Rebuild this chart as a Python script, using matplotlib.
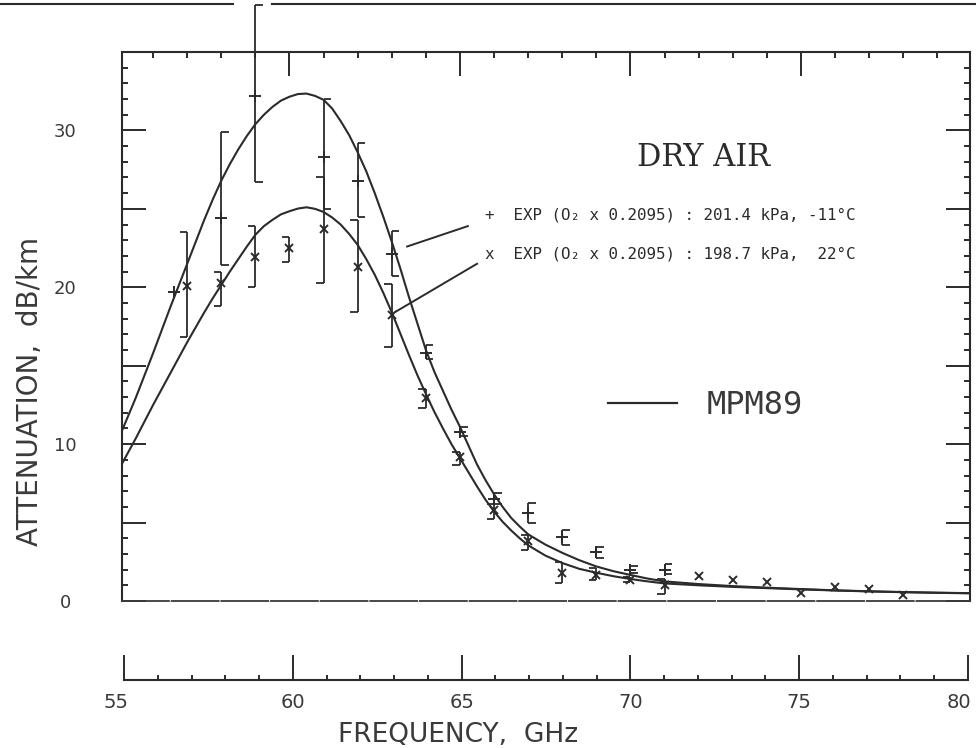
import matplotlib.pyplot as plt
from matplotlib.ticker import MultipleLocator, FuncFormatter
from matplotlib.transforms import ScaledTranslation

# MPM89 model curves
freq_model = [55, 55.5, 56, 56.5,
              57, 57.25, 57.5, 57.75, 58, 58.25, 58.5, 58.75, 59, 59.25, 59.5, 59.75,
              60, 60.25, 60.5, 60.75, 61, 61.25, 61.5, 61.75, 62, 62.25, 62.5, 62.75,
              63, 63.25, 63.5, 63.75, 64, 64.25, 64.5, 64.75, 65, 65.25, 65.5, 65.75,
              66, 66.25, 66.5, 66.75, 67,
              67.5, 68, 68.5, 69, 69.5, 70, 70.5, 71, 72, 73, 74, 75, 76, 77, 78, 79, 80]
mpm_cold = [10.4, 13.0, 15.8, 18.7,
            21.5, 22.9, 24.3, 25.6, 26.8, 27.85, 28.8, 29.65, 30.4, 31.0, 31.5, 31.9,
            32.15, 32.32, 32.35, 32.2, 31.95, 31.4, 30.6, 29.7, 28.6, 27.4, 26.0, 24.5,
            22.9, 21.2, 19.4, 17.7, 16.0, 14.6, 13.4, 12.2, 11.1, 9.9, 8.7, 7.7,
            6.8, 6.0, 5.3, 4.75, 4.25,
            3.6, 3.07, 2.6, 2.2, 1.9, 1.66, 1.43, 1.25, 1.08, 0.95, 0.85, 0.76, 0.68, 0.62, 0.57, 0.53, 0.5]
mpm_warm = [8.4, 10.4, 12.5, 14.5,
            16.5, 17.45, 18.4, 19.3, 20.15, 21.0, 21.8, 22.6, 23.35, 23.9, 24.3, 24.65,
            24.85, 25.02, 25.1, 25.0, 24.8, 24.45, 24.0, 23.4, 22.7, 21.8, 20.8, 19.65,
            18.4, 17.05, 15.7, 14.4, 13.2, 12.05, 11.0, 10.0, 9.1, 8.2, 7.3, 6.45,
            5.7, 5.05, 4.5, 4.0, 3.55,
            2.9, 2.42, 2.05, 1.8, 1.58, 1.4, 1.25, 1.12, 1.0, 0.9, 0.82, 0.74, 0.67, 0.61, 0.56, 0.52, 0.49]

# "+" experiment: 201.4 kPa, -11 C
plus_f = [56.6, 58, 59, 61, 62, 63, 64, 65, 66, 67, 68, 69, 70, 71]
plus_v = [19.7, 24.4, 32.2, 28.3, 26.8, 22.1, 15.8, 10.8, 6.5, 5.6, 4.1, 3.1, 2.0, 2.0]
plus_lo = [19.7, 21.4, 26.7, 25.0, 24.5, 20.7, 15.4, 10.5, 6.2, 5.0, 3.6, 2.75, 1.8, 1.7]
plus_hi = [19.7, 29.9, 38.0, 32.0, 29.2, 23.6, 16.3, 11.1, 6.9, 6.25, 4.5, 3.45, 2.2, 2.35]

# "x" experiment: 198.7 kPa, 22 C
x_f = [57, 58, 59, 60, 61, 62, 63, 64, 65, 66, 67, 68, 69, 70, 71, 72, 73, 74, 75, 76, 77, 78]
x_v = [20.1, 20.3, 21.95, 22.5, 23.7, 21.3, 18.25, 12.95, 9.2, 5.8, 3.8, 1.8, 1.65, 1.35, 1.0,
       1.6, 1.35, 1.2, 0.5, 0.9, 0.75, 0.4]
x_lo = [16.8, 18.8, 20.0, 21.6, 20.3, 18.4, 16.2, 12.3, 8.7, 5.2, 3.25, 1.15, 1.35, 1.2, 0.45,
        1.6, 1.35, 1.2, 0.5, 0.9, 0.75, 0.4]
x_hi = [23.5, 21.0, 23.9, 23.2, 27.0, 24.3, 20.2, 13.5, 9.5, 6.2, 4.2, 2.5, 2.1, 1.5, 1.4,
        1.6, 1.35, 1.2, 0.5, 0.9, 0.75, 0.4]

freq_ticks = [55, 60, 65, 70, 75, 80]

ink = '#2b2b2b'
grey = '#3a3a3a'

fig = plt.figure(figsize=(9.76, 7.48), dpi=100)
ax = fig.add_axes([122 / 976, 147 / 748, 848 / 976, 549 / 748])
ax.set_xlim(55.088, 79.956)
ax.set_ylim(0, 35)

ax.plot(freq_model, mpm_cold, color=ink, lw=1.5)
ax.plot(freq_model, mpm_warm, color=ink, lw=1.5)


def bracket(f, lo, hi, side):
    if hi - lo < 0.05:
        return
    w = 0.22 * side
    ax.vlines(f, lo, hi, color=ink, lw=1.3, clip_on=False)
    ax.hlines([lo, hi], f, f + w, color=ink, lw=1.3, clip_on=False)


for f, lo, hi in zip(plus_f, plus_lo, plus_hi):
    bracket(f, lo, hi, 1)
for f, lo, hi in zip(x_f, x_lo, x_hi):
    bracket(f, lo, hi, -1)

ax.plot(plus_f, plus_v, ls='none', marker='+', ms=8, mew=1.4, color=ink)
ax.plot(x_f, x_v, ls='none', marker='x', ms=6, mew=1.4, color=ink)

# frame
for s in ['left', 'top', 'right']:
    ax.spines[s].set_linewidth(1.5)
    ax.spines[s].set_color(ink)
ax.spines['bottom'].set_linewidth(1.3)
ax.spines['bottom'].set_color(grey)
ax.spines['bottom'].set_linestyle((0, (26, 1.5)))

ax.xaxis.set_major_locator(MultipleLocator(5))
ax.xaxis.set_minor_locator(MultipleLocator(1))
ax.yaxis.set_major_locator(MultipleLocator(5))
ax.yaxis.set_minor_locator(MultipleLocator(1))
ax.yaxis.set_major_formatter(FuncFormatter(lambda v, p: '%d' % v if v % 10 == 0 and v < 35 else ''))
ax.tick_params(which='both', direction='in', top=True, bottom=False, left=True, right=True,
               labelbottom=False, labeltop=False, color=ink, width=1.4)
ax.tick_params(which='major', length=17)
ax.tick_params(which='minor', length=4.5)
ax.tick_params(axis='y', which='major', labelsize=13, pad=41, labelcolor=grey)
for lab in ax.get_yticklabels():
    lab.set_horizontalalignment('center')

# separate frequency scale underneath
axf = fig.add_axes([124 / 976, 68 / 748, 844 / 976, 0.001])
axf.set_xlim(55, 80)
axf.set_yticks([])
for s in ['left', 'top', 'right']:
    axf.spines[s].set_visible(False)
axf.spines['bottom'].set_linewidth(1.5)
axf.spines['bottom'].set_color(ink)
axf.set_xticks(freq_ticks)
axf.xaxis.set_minor_locator(MultipleLocator(1))
axf.tick_params(which='both', direction='in', color=ink, width=1.4)
axf.tick_params(which='major', length=18, labelsize=14, pad=9, labelcolor=grey)
axf.tick_params(which='minor', length=3.5)
labs = axf.get_xticklabels()
labs[0].set_transform(labs[0].get_transform() + ScaledTranslation(-0.08, 0, fig.dpi_scale_trans))
labs[-1].set_horizontalalignment('right')
labs[-1].set_transform(labs[-1].get_transform() + ScaledTranslation(0.03, 0, fig.dpi_scale_trans))

fig.text(458 / 976, 1 - 735 / 748, 'FREQUENCY,  GHz', ha='center', va='center',
         fontsize=19, color=grey)
fig.text(30 / 976, 1 - 391 / 748, 'ATTENUATION,  dB/km', ha='center', va='center',
         rotation=90, fontsize=20, color=grey)

# annotations
ax.text(0.6863, 0.8087, 'DRY AIR', transform=ax.transAxes, ha='center', va='center',
        fontsize=22, family='DejaVu Serif', color=ink)
ax.text(0.428, 0.703, '+  EXP (O\u2082 x 0.2095) : 201.4 kPa, -11\u00b0C', transform=ax.transAxes,
        ha='left', va='center', fontsize=11.4, family='DejaVu Sans Mono', color=ink)
ax.text(0.428, 0.632, 'x  EXP (O\u2082 x 0.2095) : 198.7 kPa,  22\u00b0C', transform=ax.transAxes,
        ha='left', va='center', fontsize=11.4, family='DejaVu Sans Mono', color=ink)
ax.plot([63.45, 65.23], [22.6, 23.9], color=ink, lw=1.4)
ax.plot([63.12, 65.5], [18.45, 21.5], color=ink, lw=1.4)

ax.plot([0.573, 0.654], [0.3607, 0.3607], transform=ax.transAxes, color=ink, lw=1.6)
ax.text(0.690, 0.357, 'MPM89', transform=ax.transAxes, ha='left', va='center',
        fontsize=23, family='DejaVu Sans Mono', color=grey)

# page rule along the top of the scan
fig.add_artist(plt.Line2D([0, 233 / 976], [1 - 4 / 748] * 2, color=ink, lw=1.5))
fig.add_artist(plt.Line2D([272 / 976, 1], [1 - 4 / 748] * 2, color=ink, lw=1.5))

fig.savefig('out.png', dpi=100)
